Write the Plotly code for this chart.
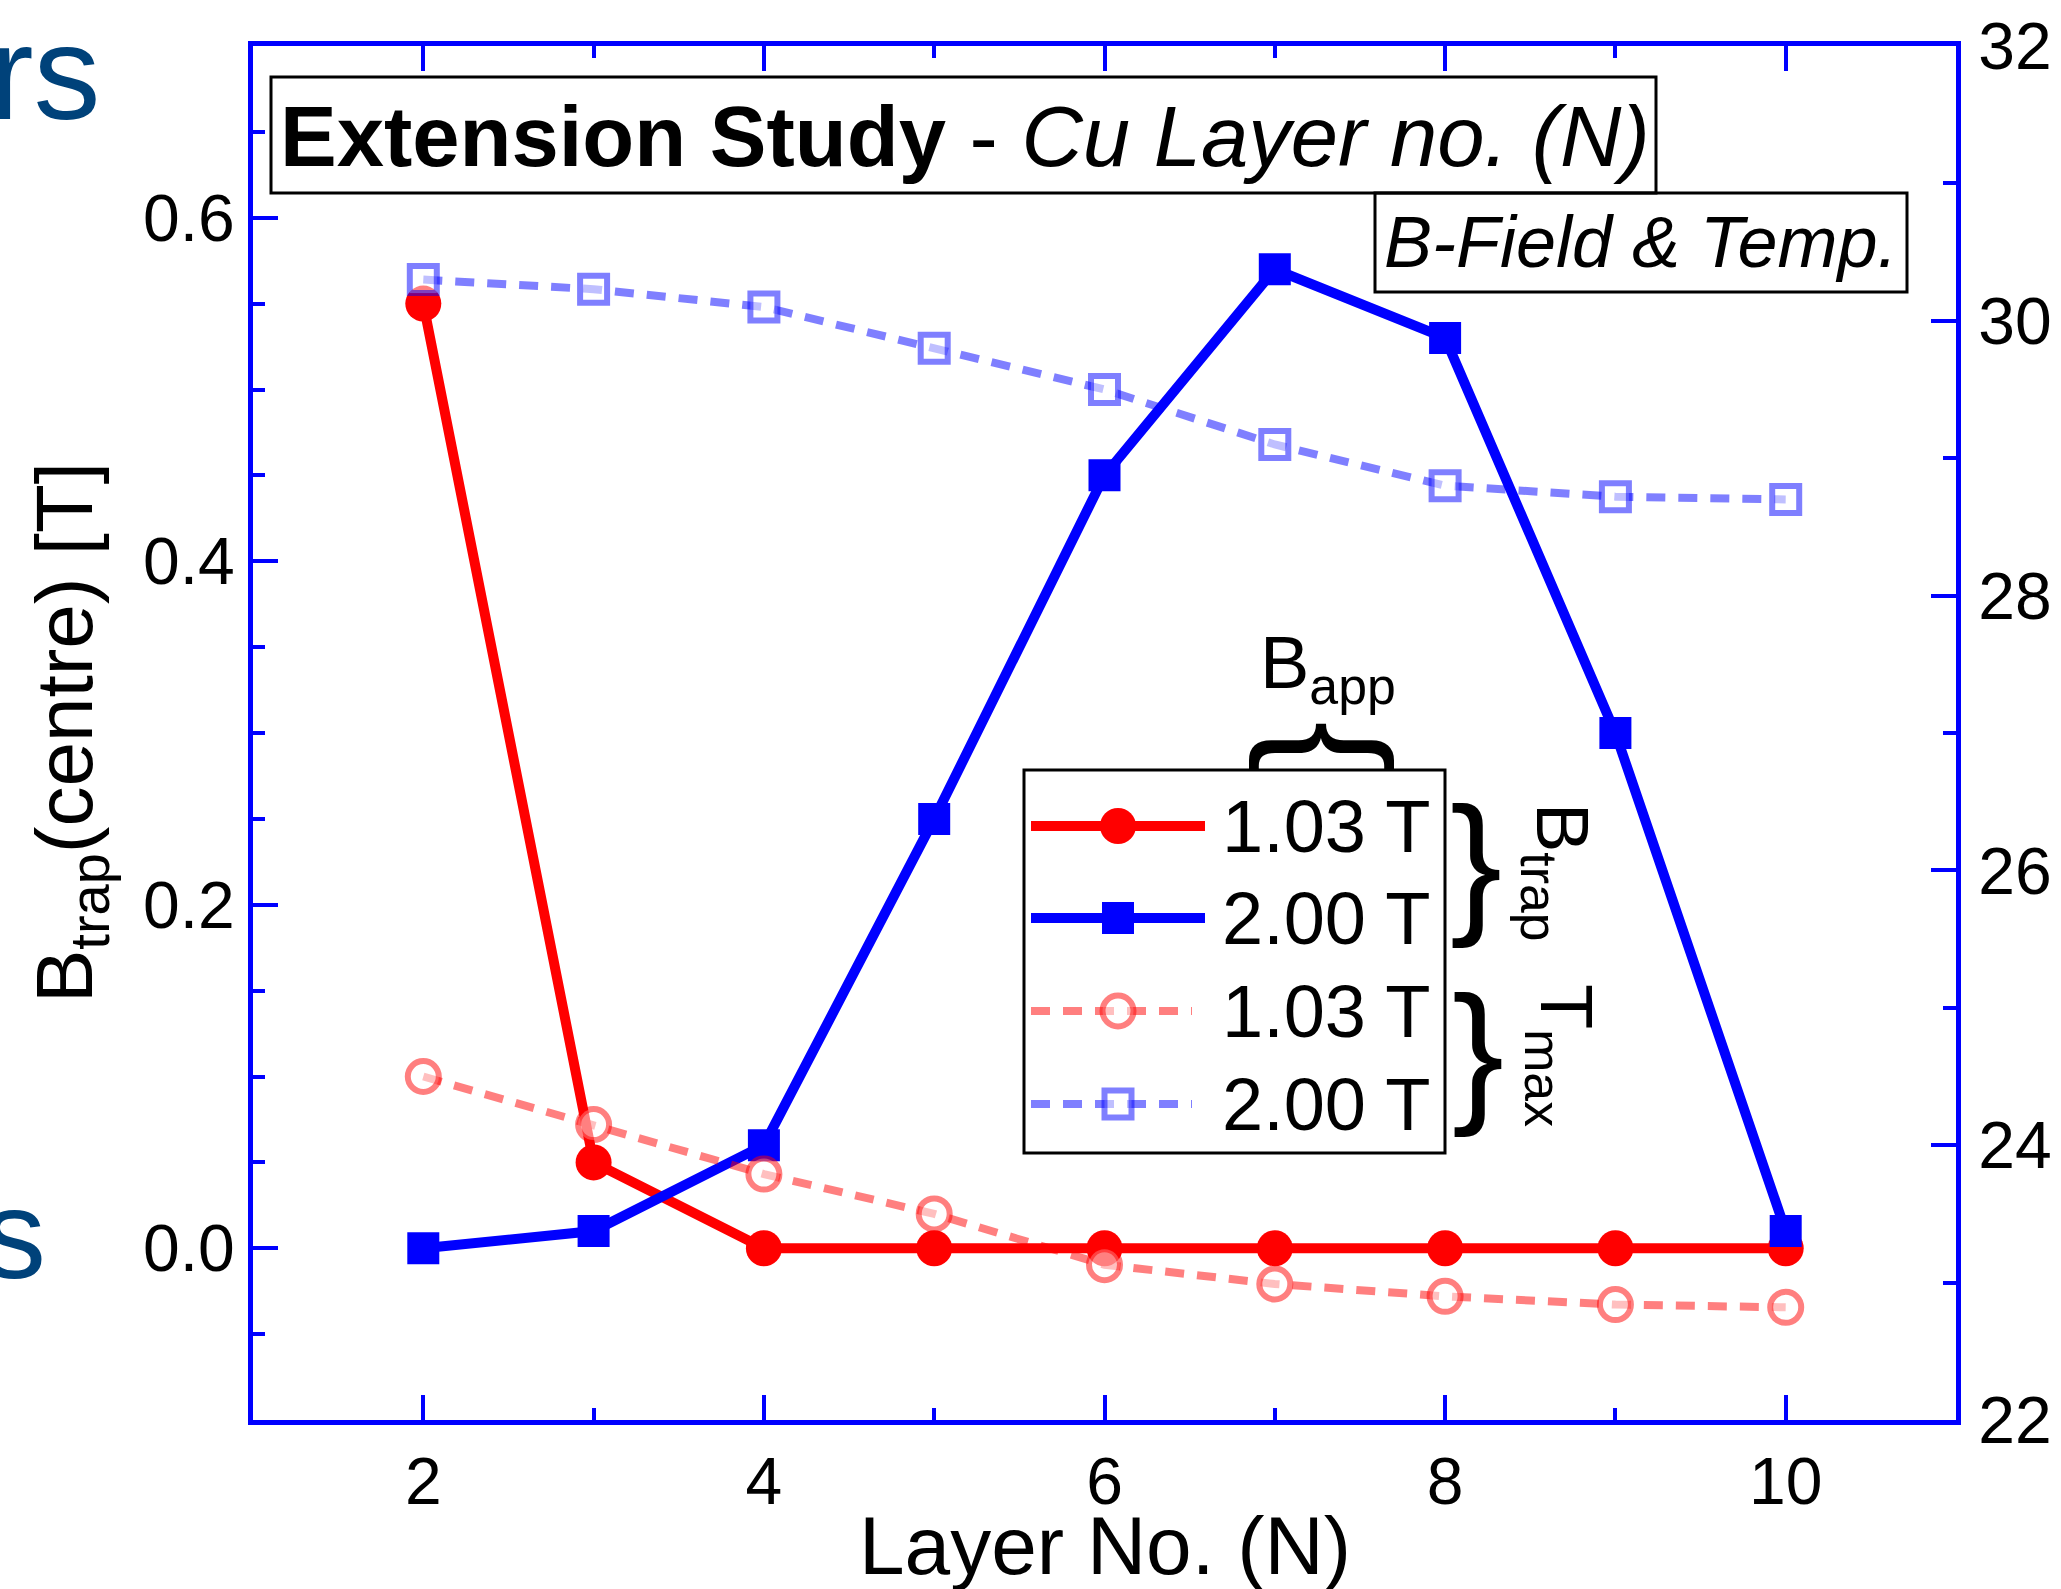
import plotly.graph_objects as go

# ---- data -------------------------------------------------------------
layers = [2, 3, 4, 5, 6, 7, 8, 9, 10]
b_trap_103 = [0.55, 0.05, 0.0, 0.0, 0.0, 0.0, 0.0, 0.0, 0.0]
b_trap_200 = [0.0, 0.01, 0.06, 0.25, 0.45, 0.57, 0.53, 0.30, 0.01]
t_max_103 = [24.50, 24.15, 23.79, 23.50, 23.13, 22.99, 22.90, 22.84, 22.82]
t_max_200 = [30.30, 30.23, 30.10, 29.80, 29.50, 29.10, 28.80, 28.72, 28.70]

legend_labels = ["1.03 T", "2.00 T", "1.03 T", "2.00 T"]
x_tick_vals = [2, 4, 6, 8, 10]
y_tick_vals = [0.0, 0.2, 0.4, 0.6]
y2_tick_vals = [22, 24, 26, 28, 30, 32]

# ---- page geometry (pixels) ---------------------------------------------
W, H = 2061, 1589
L, R, T, B = 253, 1956, 46, 1420
PW, PH = R - L, B - T


def fx(p):
    """pixel x -> paper x"""
    return (p - L) / PW


def fy(p):
    """pixel y -> paper y"""
    return (B - p) / PH


FONT = "Liberation Sans, Arial, sans-serif"
RED = "#FF0000"
BLUE = "#0000FF"
RED_T = "rgba(255,0,0,0.5)"
BLUE_T = "rgba(0,0,255,0.5)"
WHITE_T = "rgba(255,255,255,0.5)"
DASH = "19px,13px"

styles = [
    dict(line=dict(color=RED, width=10),
         marker=dict(symbol="circle", size=36, color=RED)),
    dict(line=dict(color=BLUE, width=10),
         marker=dict(symbol="square", size=32, color=BLUE)),
    dict(line=dict(color=RED_T, width=8, dash=DASH),
         marker=dict(symbol="circle", size=31, color=WHITE_T,
                     line=dict(color=RED_T, width=6))),
    dict(line=dict(color=BLUE_T, width=8, dash=DASH),
         marker=dict(symbol="square", size=27, color=WHITE_T,
                     line=dict(color=BLUE_T, width=6))),
]

fig = go.Figure()

series = [(b_trap_103, "y"), (b_trap_200, "y"), (t_max_103, "y2"), (t_max_200, "y2")]
for (vals, ax), st, name in zip(series, styles, legend_labels):
    fig.add_trace(go.Scatter(x=layers, y=vals, yaxis=ax, mode="lines+markers",
                             name=name, showlegend=False, cliponaxis=False, **st))

# ---- hand-built legend (drawn on a helper overlay axis in paper units) ----
row_y = [826, 918, 1011, 1104]
for i, (st, ry) in enumerate(zip(styles, row_y)):
    x_end = 1205 if i < 2 else 1192
    fig.add_trace(go.Scatter(x=[fx(1031), fx(x_end)], y=[fy(ry), fy(ry)],
                             xaxis="x3", yaxis="y3", mode="lines", line=st["line"],
                             showlegend=False, hoverinfo="skip", cliponaxis=False))
    fig.add_trace(go.Scatter(x=[fx(1118)], y=[fy(ry)], xaxis="x3", yaxis="y3",
                             mode="markers", marker=st["marker"], showlegend=False,
                             hoverinfo="skip", cliponaxis=False))

axis_common = dict(
    showline=True, linecolor=BLUE, linewidth=5, ticks="inside", tickcolor=BLUE,
    tickwidth=4, ticklen=25, showgrid=False, zeroline=False, automargin=False,
    tickfont=dict(family=FONT, size=66, color="black"),
)

fig.update_layout(
    width=W, height=H,
    margin=dict(l=L, r=W - R, t=T, b=H - B, pad=0, autoexpand=False),
    paper_bgcolor="white", plot_bgcolor="white",
    xaxis=dict(range=[1, 11], tickvals=x_tick_vals, mirror="ticks",
               minor=dict(dtick=1, tick0=0, ticks="inside", ticklen=12,
                          tickwidth=4, tickcolor=BLUE),
               **axis_common),
    yaxis=dict(range=[-0.1, 0.7], tickvals=y_tick_vals, tickformat=".1f",
               minor=dict(dtick=0.05, tick0=0, ticks="inside", ticklen=12,
                          tickwidth=4, tickcolor=BLUE),
               **axis_common),
    yaxis2=dict(range=[22, 32], tickvals=y2_tick_vals, overlaying="y", side="right",
                anchor="x", ticklabelstandoff=4,
                minor=dict(dtick=1, tick0=0, ticks="inside", ticklen=13,
                           tickwidth=4, tickcolor=BLUE),
                **axis_common),
    xaxis3=dict(overlaying="x", range=[0, 1], visible=False, fixedrange=True),
    yaxis3=dict(overlaying="y", range=[0, 1], visible=False, fixedrange=True),
    font=dict(family=FONT, color="black"),
)

# ---- boxes ---------------------------------------------------------------
for x0, x1, y0, y1 in [(271, 1656, 77, 193), (1375, 1907, 193, 292),
                       (1024, 1445, 770, 1153)]:
    fig.add_shape(type="rect", xref="paper", yref="paper",
                  x0=fx(x0), x1=fx(x1), y0=fy(y1), y1=fy(y0),
                  line=dict(color="black", width=3), fillcolor="rgba(0,0,0,0)",
                  layer="above")


def note(text, x, y, size, xanchor="center", yanchor="middle", angle=0,
         color="black"):
    fig.add_annotation(text=text, x=fx(x), y=fy(y), xref="paper", yref="paper",
                       xanchor=xanchor, yanchor=yanchor, textangle=angle,
                       showarrow=False, font=dict(family=FONT, size=size, color=color))


note("<b>Extension Study</b> - <i>Cu Layer no. (N)</i>", 965, 136, 85)
note("<i>B-Field &amp; Temp.</i>", 1641, 242, 72)
for lab, ry in zip(legend_labels, row_y):
    note(lab, 1220, ry, 74, xanchor="left")

# braces and group labels around the legend
note("}", 1476, 876 - 14, 156)
note("}", 1478, 1065 - 14, 156)
note("}", 1322 - 14, 747, 156, angle=-90)
note("B<sub>app</sub>", 1328, 668, 74)
note("B<sub>trap</sub>", 1557, 872, 74, angle=90)
note("T<sub>max</sub>", 1561, 1055, 74, angle=90)

# axis titles
note("B<sub>trap</sub>(centre) [T]", 70, 733, 80, angle=-90)
note("Layer No. (N)", 1105, 1545, 82)

# fragments of neighbouring text at the left edge
note("rs", 103, 73, 134, xanchor="right", color="#00427A")
note("s", 48, 1234, 126, xanchor="right", color="#00427A")

fig.write_html("out.html")
